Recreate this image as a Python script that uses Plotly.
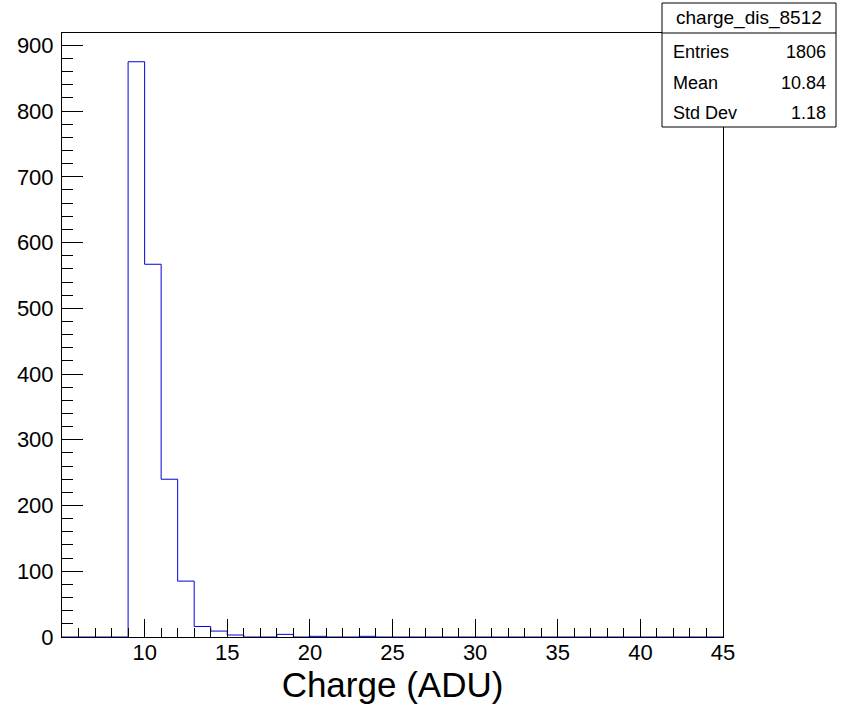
import numpy as np
import plotly.graph_objects as go

# ---- data ----
bin_low = 5
bin_high = 45
bin_width = 1
counts = [0, 0, 0, 0, 875, 567, 240, 85, 16, 9, 3, 0, 0, 4, 0, 1, 0, 0, 1, 0,
          0, 0, 0, 0, 0, 0, 0, 0, 0, 0, 0, 0, 0, 0, 0, 0, 0, 0, 0, 0]
x_tick_vals = [10, 15, 20, 25, 30, 35, 40, 45]
y_tick_vals = [0, 100, 200, 300, 400, 500, 600, 700, 800, 900]
x_title = "Charge (ADU)"
stats_title = "charge_dis_8512"
stats_names = ["Entries", "Mean", "Std Dev"]
stats_values = ["1806", "10.84", "1.18"]

W, H = 846, 708
FONT = "Liberation Sans, Arial, Helvetica, sans-serif"

edges = np.arange(bin_low, bin_high + bin_width, bin_width)
ys = list(counts) + [counts[-1]]
ymax = max(counts) * 1.05

# plot frame in pixels
L, R, T, B = 62, 723, 33, 637

def px(x):
    return x / W

def py(y):
    return 1 - y / H

fig = go.Figure()
fig.add_trace(go.Scatter(
    x=edges, y=ys, mode="lines", line_shape="hv",
    line=dict(color="#0000dd", width=1), showlegend=False, hoverinfo="skip"))

fig.update_layout(
    width=W, height=H,
    margin=dict(l=0, r=0, t=0, b=0),
    paper_bgcolor="white", plot_bgcolor="white",
    font=dict(family=FONT, color="black"),
    xaxis=dict(
        domain=[px(L), px(R)], range=[bin_low, bin_high],
        showgrid=False, zeroline=False,
        showline=True, linecolor="black", linewidth=1, mirror=True,
        tickmode="array", tickvals=x_tick_vals,
        ticks="inside", ticklen=18, tickcolor="black", tickwidth=1,
        tickfont=dict(size=22, family=FONT), ticklabelstandoff=-4,
        minor=dict(ticks="inside", ticklen=9, tickcolor="black", tickwidth=1,
                   tick0=bin_low, dtick=1, showgrid=False),
        title=dict(text=x_title, font=dict(size=35, family=FONT), standoff=0),
        automargin=False,
    ),
    yaxis=dict(
        domain=[py(B), py(T)], range=[0, ymax],
        showgrid=False, zeroline=False,
        showline=True, linecolor="black", linewidth=1, mirror=True,
        tickmode="array", tickvals=y_tick_vals,
        ticks="inside", ticklen=21, tickcolor="black", tickwidth=1,
        tickfont=dict(size=22, family=FONT), ticklabelstandoff=3,
        minor=dict(ticks="inside", ticklen=11, tickcolor="black", tickwidth=1,
                   tick0=0, dtick=20, showgrid=False),
        automargin=False,
    ),
)

# ---- stats box ----
bx0, bx1, by0, by1, bsep = 662, 836, 3, 127, 33
fig.add_shape(type="rect", xref="paper", yref="paper",
              x0=px(bx0), x1=px(bx1), y0=py(by1), y1=py(by0),
              line=dict(color="black", width=1), fillcolor="white", layer="above")
fig.add_shape(type="line", xref="paper", yref="paper",
              x0=px(bx0), x1=px(bx1), y0=py(bsep), y1=py(bsep),
              line=dict(color="black", width=1), layer="above")
fig.add_annotation(xref="paper", yref="paper", x=px((bx0 + bx1) / 2), y=py(18),
                   text=stats_title, showarrow=False, xanchor="center", yanchor="middle",
                   font=dict(size=19, family=FONT, color="black"))
row_y = [52, 83, 113]
for name, val, yy in zip(stats_names, stats_values, row_y):
    fig.add_annotation(xref="paper", yref="paper", x=px(671), y=py(yy), text=name,
                       showarrow=False, xanchor="left", yanchor="middle",
                       font=dict(size=18, family=FONT, color="black"))
    fig.add_annotation(xref="paper", yref="paper", x=px(828), y=py(yy), text=val,
                       showarrow=False, xanchor="right", yanchor="middle",
                       font=dict(size=18, family=FONT, color="black"))

fig.write_html("out.html",
               config={"displayModeBar": False},
               post_script="document.body.style.margin='0';document.body.style.padding='0';")
